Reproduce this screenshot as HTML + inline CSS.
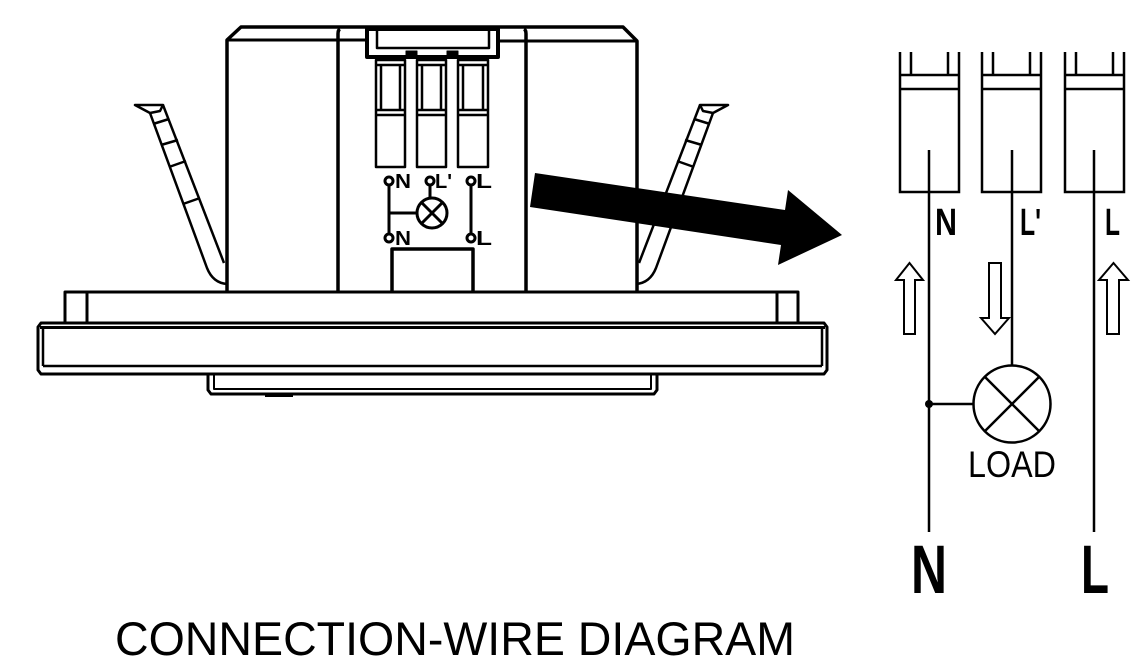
<!DOCTYPE html>
<html><head><meta charset="utf-8"><style>
html,body{margin:0;padding:0;background:#fff;}
svg{display:block;}
text{font-family:"Liberation Sans",sans-serif;fill:#000;}
</style></head><body>
<svg width="1142" height="662" viewBox="0 0 1142 662" xmlns="http://www.w3.org/2000/svg">
<rect width="1142" height="662" fill="#fff"/>
<g fill="none" stroke="#000" stroke-width="3" stroke-linejoin="round" stroke-linecap="butt">
  <!-- main housing -->
  <path d="M227,292 V40 L241,27 H623 L637,41 V292" stroke-width="3.5"/>
  <path d="M227,40 H366 M498,41 H637"/>
  <path d="M338,292 V34 Q338,30 340,29 M526,292 V34 Q526,30 524,29" stroke-width="3.5"/>
  <!-- header -->
  <rect x="367" y="29" width="131" height="28" stroke-width="4" fill="#fff"/>
  <rect x="377" y="29" width="112" height="19" stroke-width="2.5"/>
  <rect x="406" y="51" width="11" height="4" fill="#000" stroke-width="1"/>
  <rect x="447" y="51" width="11" height="4" fill="#000" stroke-width="1"/>
  <!-- terminal blocks -->
  <g stroke-width="2.5">
    <rect x="376" y="60" width="29" height="107"/>
    <path d="M376,65 H405 M381,65 V110 M400,65 V110 M376,110 H405 M376,115 H405"/>
    <rect x="417" y="60" width="29" height="107"/>
    <path d="M417,65 H446 M422,65 V110 M441,65 V110 M417,110 H446 M417,115 H446"/>
    <rect x="458" y="60" width="30" height="107"/>
    <path d="M458,65 H488 M463,65 V110 M483,65 V110 M458,110 H488 M458,115 H488"/>
  </g>
  <!-- small wiring symbol -->
  <circle cx="389" cy="181" r="4"/>
  <circle cx="430" cy="181" r="4"/>
  <circle cx="471" cy="181" r="4"/>
  <circle cx="389" cy="238" r="4"/>
  <circle cx="471" cy="238" r="4"/>
  <path d="M389,185 V234 M389,213 H417 M430,185 V198 M471,185 V234"/>
  <circle cx="432" cy="213" r="15"/>
  <path d="M421,202 L443,224 M443,202 L421,224"/>
  <!-- lower box -->
  <path d="M392,292 V249 H473 V292" stroke-width="3.5"/>
  <!-- base -->
  <path d="M65,323 V292 H798 V323 M87,292 V323 M777,292 V323"/>
  <path d="M41,323 H824 L827,327 V370 L824,374 H41 L38,370 V327 Z"/>
  <path d="M40,327.5 H825" stroke-width="3"/>
  <path d="M43,366 H822 M43,328 V366 M822,328 V366" stroke-width="2.5"/>
  <path d="M208,374 V390 L211,394 H654 L657,390 V374"/>
  <path d="M214,374 V389 H651 V374" stroke-width="2"/>
  <rect x="265" y="394" width="28" height="3" fill="#000" stroke="none"/>
  <!-- left clip -->
  <g stroke-width="2.5">
    <path d="M135,105 H163 L160,111 L150,113 Z"/>
    <path d="M150,113 L207,268 Q213,283 227,284"/>
    <path d="M163,105 L224,263"/>
    <path d="M153,124 L169,119 M161,145 L178,140 M169,167 L186,161 M183,204 L200,198"/>
  </g>
  <!-- right clip -->
  <g stroke-width="2.5">
    <path d="M728,105 H700 L703,111 L713,113 Z"/>
    <path d="M713,113 L656,268 Q650,283 636,284"/>
    <path d="M700,105 L639,263"/>
    <path d="M710,124 L694,119 M702,145 L685,140 M694,167 L677,161 M680,204 L663,198"/>
  </g>
</g>
<!-- big arrow -->
<polygon points="535,173 785,210 788,190 842,235 778,265 781,245 530,207" fill="#000"/>

<!-- device labels -->
<g font-weight="bold" font-size="20">
  <text x="395" y="188" textLength="16" lengthAdjust="spacingAndGlyphs">N</text>
  <text x="435" y="188" textLength="17" lengthAdjust="spacingAndGlyphs">L'</text>
  <text x="476" y="188" textLength="16" lengthAdjust="spacingAndGlyphs">L</text>
  <text x="395" y="245" textLength="16" lengthAdjust="spacingAndGlyphs">N</text>
  <text x="476" y="245" textLength="16" lengthAdjust="spacingAndGlyphs">L</text>
</g>

<!-- right schematic -->
<g fill="none" stroke="#000" stroke-width="2.5">
  <path d="M900,52 V192 H959 V52 M911,52 V75 M948,52 V75 M900,75 H959 M900,89 H959"/>
  <path d="M982,52 V192 H1041 V52 M993,52 V75 M1030,52 V75 M982,75 H1041 M982,89 H1041"/>
  <path d="M1065,52 V192 H1124 V52 M1076,52 V75 M1113,52 V75 M1065,75 H1124 M1065,89 H1124"/>
  <path d="M929,150 V532 M1012,150 V365 M1094,150 V532"/>
  <path d="M929,404 H973"/>
  <circle cx="1012" cy="404" r="38.5"/>
  <path d="M985,377 L1039,431 M1039,377 L985,431"/>
  <polygon points="909.5,263 896,280 904,280 904,334 915,334 915,280 923,280" stroke-width="2"/>
  <polygon points="1113.5,263 1099,280 1107,280 1107,334 1119,334 1119,280 1128,280" stroke-width="2"/>
  <polygon points="989,263 1001,263 1001,318 1009,318 995,334 981,318 989,318" stroke-width="2"/>
</g>
<circle cx="929" cy="404" r="4" fill="#000"/>

<g font-size="38" font-weight="bold">
  <text x="935" y="235" textLength="22" lengthAdjust="spacingAndGlyphs">N</text>
  <text x="1020" y="235" textLength="21" lengthAdjust="spacingAndGlyphs">L'</text>
  <text x="1105" y="235" textLength="15" lengthAdjust="spacingAndGlyphs">L</text>
</g>
<text x="968" y="477" font-size="37" textLength="88" lengthAdjust="spacingAndGlyphs">LOAD</text>
<text x="911" y="593" font-size="69" font-weight="bold" textLength="36" lengthAdjust="spacingAndGlyphs">N</text>
<text x="1081" y="593" font-size="69" font-weight="bold" textLength="28" lengthAdjust="spacingAndGlyphs">L</text>

<text x="115" y="655" font-size="47" textLength="680" lengthAdjust="spacingAndGlyphs">CONNECTION-WIRE DIAGRAM</text>
</svg>
</body></html>
